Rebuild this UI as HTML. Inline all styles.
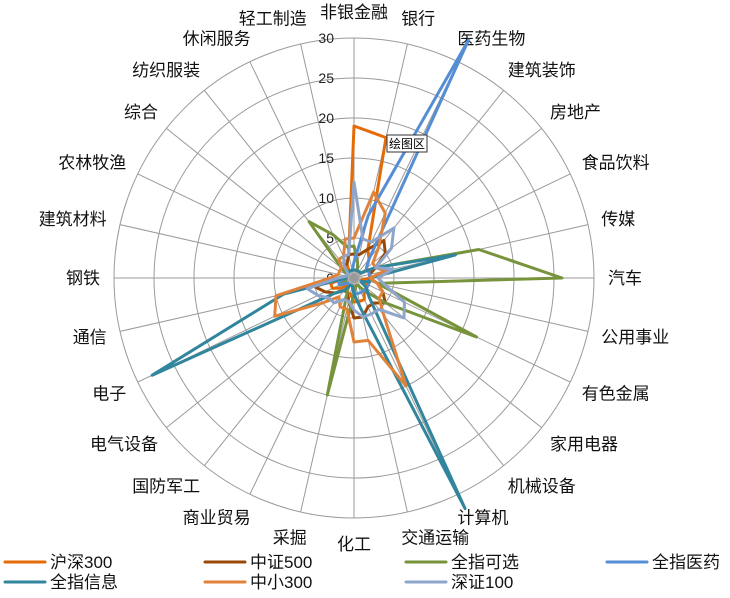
<!DOCTYPE html>
<html><head><meta charset="utf-8"><style>
body{margin:0;background:#fff;width:730px;height:593px;overflow:hidden}
svg{font-family:"Liberation Sans","Noto Sans CJK SC",sans-serif}
</style></head><body>
<svg id="s" width="730" height="593" xmlns="http://www.w3.org/2000/svg"></svg>
<script>
const s=document.getElementById('s');
const cx=354,cy=278,k=8,N=28;
const cats=["非银金融","银行","医药生物","建筑装饰","房地产","食品饮料","传媒","汽车","公用事业","有色金属","家用电器","机械设备","计算机","交通运输","化工","采掘","商业贸易","国防军工","电气设备","电子","通信","钢铁","建筑材料","农林牧渔","综合","纺织服装","休闲服务","轻工制造"];
function pt(i,r){const a=i*2*Math.PI/N;return [cx+r*Math.sin(a),cy-r*Math.cos(a)];}
let h='';
for(let v=5;v<=30;v+=5){h+=`<circle cx="${cx}" cy="${cy}" r="${v*k}" fill="none" stroke="#9a9a9a" stroke-width="1"/>`;}
for(let i=0;i<N;i++){const [x,y]=pt(i,240);h+=`<line x1="${cx}" y1="${cy}" x2="${x.toFixed(1)}" y2="${y.toFixed(1)}" stroke="#9a9a9a" stroke-width="1"/>`;}
for(let v=0;v<=30;v+=5){h+=`<text x="${cx-20}" y="${cy-v*k+5}" font-size="14" text-anchor="end" fill="#222">${v}</text>`;}
for(let i=0;i<N;i++){const a=i*2*Math.PI/N;const [x,y]=pt(i,266);let sa=Math.sin(a);let anc=Math.abs(sa)<0.15?'middle':(sa>0?'start':'end');let dx=Math.abs(sa)<0.15?0:(sa>0?-12:12);h+=`<text x="${(x+dx).toFixed(1)}" y="${(y+6).toFixed(1)}" font-size="17" text-anchor="${anc}" fill="#111">${cats[i]}</text>`;}
const ser=[
["沪深300","#E36C09",[19,18,4,3,2,2,2,2,1,2,2,2,3,3,3,2,2,1,2,3,3,1,1,1,1,1,2,3]],
["中证500","#984807",[3,3,4,6,5,3,2,2,3,4,5,4,4,5,5,3,2,2,3,4,5,2,1,1,1,2,2,3]],
["全指可选","#77933C",[4,2,1,1,1,3,16,26,3,17,5,2,1,1,2,15,2,1,1,2,1,1,1,1,2,9,6,4]],
["全指医药","#558ED5",[2,8,33,3,2,2,2,2,2,2,2,2,2,2,2,1,1,1,1,2,2,1,1,1,1,1,1,1]],
["全指信息","#31859C",[1,1,1,1,1,3,13,2,2,1,2,3,32,4,2,1,1,2,3,28,9,1,1,1,1,1,1,1]],
["中小300","#E0823A",[5,11,9,5,3,3,4,2,3,4,4,6,15,8,8,4,4,3,5,11,10,3,2,2,2,3,3,5]],
["深证100","#8EA5CC",[12,5,5,8,6,3,5,3,4,7,8,5,5,5,4,3,3,4,4,5,6,2,1,1,1,2,3,3]]];
h+='<clipPath id="c"><rect x="0" y="37" width="730" height="498"/></clipPath><g clip-path="url(#c)">';
for(const [n,c,d] of ser){let p=d.map((v,i)=>pt(i,v*k).map(x=>x.toFixed(1)).join(','));h+=`<polygon points="${p.join(' ')}" fill="none" stroke="${c}" stroke-width="3" stroke-linejoin="round"/>`;}
h+='</g>';
h+=`<rect x="387" y="135" width="40" height="17" fill="#fff" stroke="#333" stroke-width="1"/><text x="389" y="148" font-size="12" fill="#000">绘图区</text>`;
const cols=[5,205,406,607];
ser.forEach(([n,c],j)=>{const r=Math.floor(j/4),q=j%4;const x=cols[q],y=562+r*20;h+=`<line x1="${x}" y1="${y}" x2="${x+40}" y2="${y}" stroke="${c}" stroke-width="3" stroke-linecap="round"/><text x="${x+45}" y="${y+6}" font-size="17" fill="#111">${n}</text>`;});
s.innerHTML=h;
</script>
</body></html>
